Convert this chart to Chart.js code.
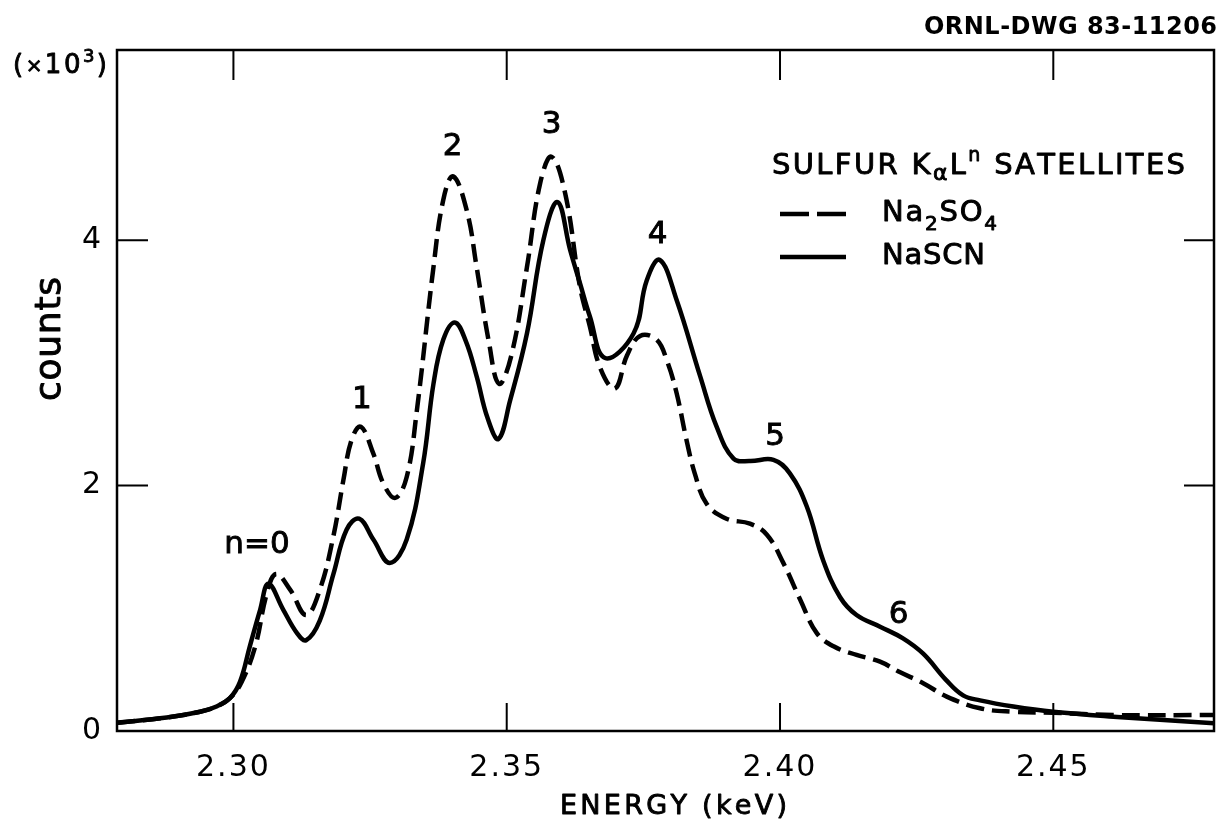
<!DOCTYPE html>
<html>
<head>
<meta charset="utf-8">
<script src="https://cdn.jsdelivr.net/npm/chart.js@4.4.1/dist/chart.umd.min.js"></script>
<style>
  html, body { margin: 0; padding: 0; background: #fff; }
  canvas { display: block; }
</style>
</head>
<body>
<canvas id="chart" width="1225" height="823"></canvas>
<script>
// Sulfur K-alpha L^n satellite spectra (counts in thousands)
const sulfateEnergy = [2.2787, 2.2878, 2.2939, 2.2969, 2.2994, 2.3015, 2.3040, 2.3061, 2.3078, 2.3104,
  2.3133, 2.3158, 2.3183, 2.3201, 2.3216, 2.3233, 2.3256, 2.3274, 2.3296, 2.3317,
  2.3335, 2.3366, 2.3384, 2.3402, 2.3427, 2.3445, 2.3467, 2.3486, 2.3509, 2.3537,
  2.3561, 2.3582, 2.3607, 2.3634, 2.3652, 2.3671, 2.3698, 2.3720, 2.3744, 2.3774,
  2.3793, 2.3811, 2.3829, 2.3844, 2.3866, 2.3902, 2.3945, 2.3976, 2.4006, 2.4037,
  2.4067, 2.4098, 2.4140, 2.4183, 2.4219, 2.4262, 2.4305, 2.4366, 2.4427, 2.4500,
  2.4610, 2.4794];
const sulfateCounts = [0.068, 0.11, 0.157, 0.20, 0.27, 0.40, 0.69, 1.12, 1.28, 1.15,
  0.945, 1.15, 1.59, 2.04, 2.37, 2.48, 2.26, 2.02, 1.90, 2.07,
  2.59, 3.78, 4.33, 4.52, 4.24, 3.78, 3.18, 2.83, 3.07, 3.78,
  4.46, 4.68, 4.38, 3.62, 3.30, 2.96, 2.79, 3.06, 3.22, 3.19,
  3.02, 2.75, 2.37, 2.10, 1.85, 1.73, 1.69, 1.60, 1.37, 1.07,
  0.80, 0.69, 0.62, 0.565, 0.48, 0.39, 0.28, 0.185, 0.157, 0.149,
  0.13, 0.13];

const thiocyanateEnergy = [2.2787, 2.2878, 2.2939, 2.2969, 2.2994, 2.3012, 2.3030, 2.3049, 2.3064, 2.3091,
  2.3116, 2.3133, 2.3158, 2.3183, 2.3207, 2.3230, 2.3256, 2.3286, 2.3317, 2.3347,
  2.3366, 2.3384, 2.3405, 2.3425, 2.3445, 2.3465, 2.3485, 2.3506, 2.3537, 2.3567,
  2.3593, 2.3616, 2.3634, 2.3652, 2.3680, 2.3732, 2.3756, 2.3780, 2.3811, 2.3854,
  2.3884, 2.3915, 2.3945, 2.3988, 2.4018, 2.4049, 2.4079, 2.4110, 2.4140, 2.4183,
  2.4225, 2.4262, 2.4304, 2.4335, 2.4366, 2.4427, 2.4500, 2.4610, 2.4794];
const thiocyanateCounts = [0.068, 0.11, 0.157, 0.20, 0.27, 0.40, 0.69, 0.99, 1.20, 0.99,
  0.80, 0.74, 0.90, 1.28, 1.64, 1.73, 1.56, 1.37, 1.56, 2.18,
  2.83, 3.19, 3.33, 3.18, 2.89, 2.55, 2.38, 2.69, 3.24, 4.00,
  4.31, 3.92, 3.65, 3.38, 3.04, 3.24, 3.67, 3.84, 3.51, 2.89,
  2.48, 2.22, 2.20, 2.21, 2.10, 1.83, 1.39, 1.09, 0.945, 0.85,
  0.755, 0.63, 0.415, 0.29, 0.25, 0.20, 0.157, 0.117, 0.063];

const xTickValues = [2.30, 2.35, 2.40, 2.45];
const yTickValues = [0, 2, 4];

// satellite order labels n = 0..6
const peakNames = ['n=0', '1', '2', '3', '4', '5', '6'];
const peakEnergy = [2.3043, 2.3235, 2.3401, 2.3582, 2.3776, 2.3991, 2.4217];
const peakHeight = [1.515, 2.70, 4.76, 4.94, 4.04, 2.40, 0.945];

const FONT = '"DejaVu Sans", sans-serif';

function toPoints(xs, ys) {
  return xs.map((x, i) => ({ x: x, y: ys[i] }));
}

// draw text runs (sub/superscripts) spread to a given width, pen-weight look
function drawRuns(ctx, runs, x, y, width, pen) {
  let natural = 0, count = 0;
  runs.forEach(r => {
    ctx.font = (r[3] || 'normal') + ' ' + r[1] + 'px ' + FONT;
    for (const ch of r[0]) natural += ctx.measureText(ch).width;
    count += r[0].length;
  });
  const sp = width ? (width - natural) / Math.max(count - 1, 1) : 0;
  let cx = x;
  ctx.textAlign = 'left';
  ctx.textBaseline = 'alphabetic';
  ctx.lineWidth = pen === undefined ? 0.9 : pen;
  ctx.lineJoin = 'round';
  runs.forEach(r => {
    ctx.font = (r[3] || 'normal') + ' ' + r[1] + 'px ' + FONT;
    for (const ch of r[0]) {
      ctx.fillText(ch, cx, y + r[2]);
      if (ctx.lineWidth > 0.1 && pen !== 0) ctx.strokeText(ch, cx, y + r[2]);
      cx += ctx.measureText(ch).width + sp;
    }
  });
}

const decorations = {
  id: 'decorations',
  beforeDraw(chart) {
    chart.ctx.letterSpacing = '2px';
  },
  afterDatasetsDraw(chart) {
    const ctx = chart.ctx;
    const area = chart.chartArea;
    const xs = chart.scales.x, ys = chart.scales.y;
    ctx.save();
    ctx.letterSpacing = '0px';
    ctx.strokeStyle = '#000';
    ctx.fillStyle = '#000';

    // frame
    ctx.lineWidth = 2.5;
    ctx.strokeRect(area.left, area.top, area.right - area.left, area.bottom - area.top);

    // inward ticks
    ctx.lineWidth = 2;
    ctx.beginPath();
    xTickValues.forEach(v => {
      const px = xs.getPixelForValue(v);
      ctx.moveTo(px, area.bottom); ctx.lineTo(px, area.bottom - 28);
      ctx.moveTo(px, area.top); ctx.lineTo(px, area.top + 30);
    });
    yTickValues.filter(v => v > 0).forEach(v => {
      const py = ys.getPixelForValue(v);
      ctx.moveTo(area.left, py); ctx.lineTo(area.left + 31, py);
      ctx.moveTo(area.right, py); ctx.lineTo(area.right - 30, py);
    });
    ctx.stroke();

    // peak labels
    ctx.font = '31px ' + FONT;
    ctx.textAlign = 'center';
    ctx.textBaseline = 'middle';
    ctx.lineWidth = 0.9;
    peakNames.forEach((t, i) => {
      const px = xs.getPixelForValue(peakEnergy[i]), py = ys.getPixelForValue(peakHeight[i]);
      ctx.fillText(t, px, py);
      ctx.strokeText(t, px, py);
    });

    // legend
    drawRuns(ctx, [['SULFUR K', 29, 0], ['α', 22, 6], ['L', 29, 0], ['n', 19, -13], [' SATELLITES', 29, 0]], 772, 174, 413);
    ctx.lineWidth = 4.5;
    ctx.setLineDash([29, 8]);
    ctx.beginPath(); ctx.moveTo(780, 214); ctx.lineTo(846, 214); ctx.stroke();
    ctx.setLineDash([]);
    ctx.beginPath(); ctx.moveTo(780, 257); ctx.lineTo(846, 257); ctx.stroke();
    drawRuns(ctx, [['Na', 29, 0], ['2', 20, 9], ['SO', 29, 0], ['4', 20, 9]], 882, 221, 115);
    drawRuns(ctx, [['NaSCN', 29, 0]], 882, 264, 103);

    // axis titles and drawing number
    drawRuns(ctx, [['ENERGY (keV)', 27, 0]], 560, 814, 227);
    drawRuns(ctx, [['(', 26, 0], ['×', 20, -1], ['10', 26, 0], ['3', 18, -11], [')', 26, 0]], 13, 73, 94);
    drawRuns(ctx, [['ORNL-DWG 83-11206', 24, 0, 'bold']], 924, 34, 293, 0);
    ctx.save();
    ctx.translate(60, 339);
    ctx.rotate(-Math.PI / 2);
    drawRuns(ctx, [['counts', 36, 0]], -62, 0, 124);
    ctx.restore();

    ctx.restore();
  }
};

new Chart(document.getElementById('chart').getContext('2d'), {
  type: 'line',
  data: {
    datasets: [
      {
        label: 'Na2SO4',
        data: toPoints(sulfateEnergy, sulfateCounts),
        borderColor: '#000',
        borderWidth: 4.5,
        borderDash: [18, 8],
        pointRadius: 0,
        fill: false,
        tension: 0.4
      },
      {
        label: 'NaSCN',
        data: toPoints(thiocyanateEnergy, thiocyanateCounts),
        borderColor: '#000',
        borderWidth: 4.5,
        pointRadius: 0,
        fill: false,
        tension: 0.4
      }
    ]
  },
  options: {
    responsive: false,
    animation: false,
    devicePixelRatio: 1,
    layout: { padding: { top: 50, right: 11, left: 0, bottom: 0 } },
    plugins: {
      legend: { display: false },
      tooltip: { enabled: false }
    },
    scales: {
      x: {
        type: 'linear',
        min: 2.2787,
        max: 2.4794,
        afterBuildTicks: s => { s.ticks = xTickValues.map(v => ({ value: v })); },
        afterFit: s => { s.height = 92; },
        grid: { display: false, drawTicks: false },
        border: { display: false },
        ticks: {
          callback: v => Number(v).toFixed(2),
          color: '#000',
          font: { family: FONT, size: 30 },
          padding: 19,
          autoSkip: false,
          maxRotation: 0
        }
      },
      y: {
        min: 0,
        max: 5.55,
        afterBuildTicks: s => { s.ticks = yTickValues.map(v => ({ value: v })); },
        afterFit: s => { s.width = 117; },
        grid: { display: false, drawTicks: false },
        border: { display: false },
        ticks: {
          callback: v => String(v),
          color: '#000',
          font: { family: FONT, size: 30 },
          padding: 14
        }
      }
    }
  },
  plugins: [decorations]
});
</script>
</body>
</html>
